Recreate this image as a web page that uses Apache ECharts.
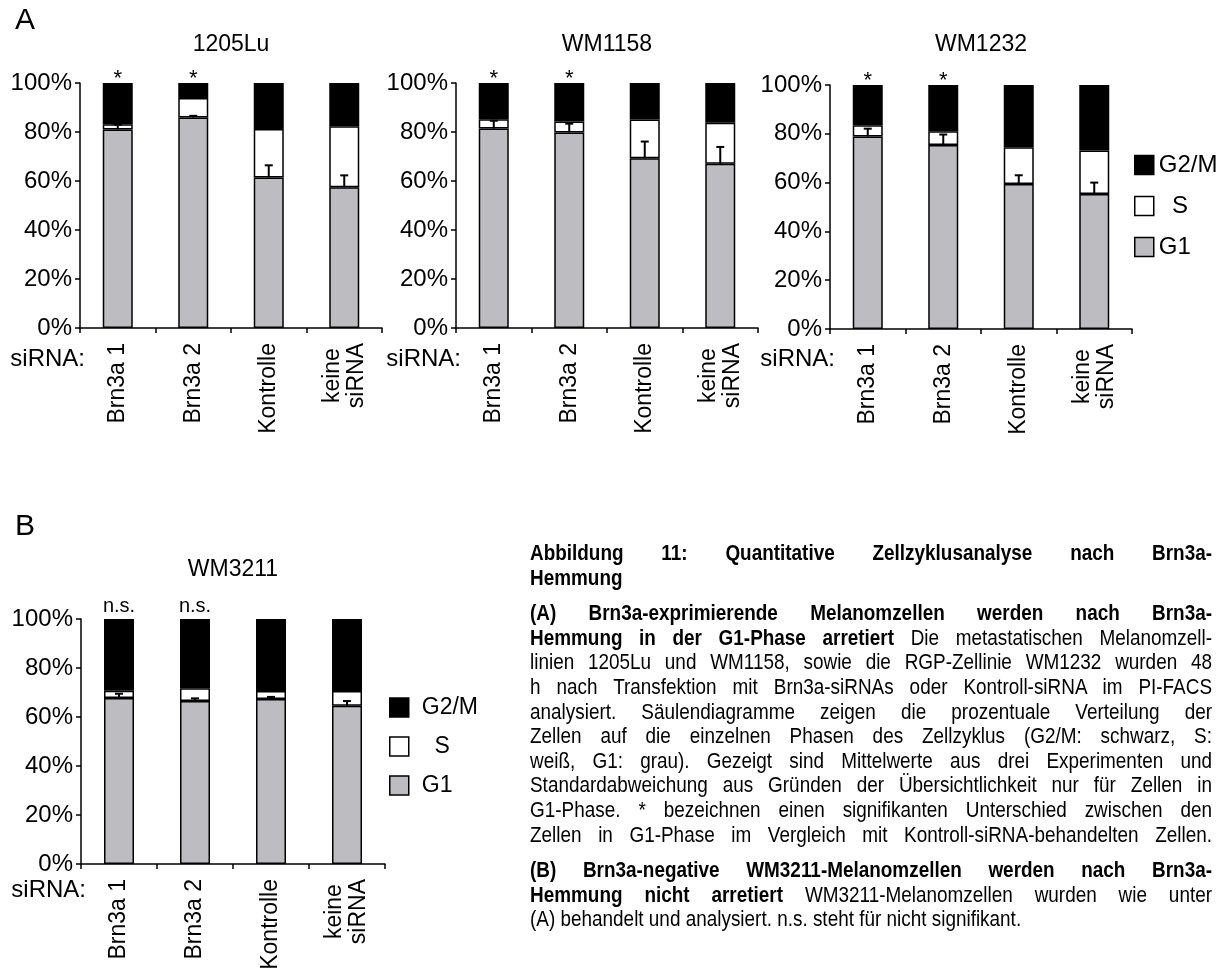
<!DOCTYPE html>
<html>
<head>
<meta charset="utf-8">
<script src="https://cdn.jsdelivr.net/npm/echarts@6/dist/echarts.min.js"></script>
<style>
  html, body { margin: 0; padding: 0; background: #fff; }
  #chart { position: absolute; left: 0; top: 0; width: 1227px; height: 970px; }
  #cap { position: absolute; left: 530px; top: 541px; width: 775px; color: #000;
         transform: scaleX(0.88); transform-origin: 0 0;
         font-family: 'Liberation Sans', Arial, sans-serif;
         font-size: 21.5px; line-height: 24.6px; }
  #cap .j { text-align: justify; text-align-last: justify; white-space: nowrap; }
  #cap .l { text-align: left; white-space: nowrap; }
  #cap .b { font-weight: bold; }
  #cap .gap { height: 11px; }
</style>
</head>
<body>
<div id="chart"></div>
<div id="cap">
  <div class="j b">Abbildung 11: Quantitative Zellzyklusanalyse nach Brn3a-</div>
  <div class="l b">Hemmung</div>
  <div class="gap"></div>
  <div class="j b">(A) Brn3a-exprimierende Melanomzellen werden nach Brn3a-</div>
  <div class="j"><span class="b">Hemmung in der G1-Phase arretiert</span> Die metastatischen Melanomzell-</div>
  <div class="j">linien 1205Lu und WM1158, sowie die RGP-Zellinie WM1232 wurden 48</div>
  <div class="j">h nach Transfektion mit Brn3a-siRNAs oder Kontroll-siRNA im PI-FACS</div>
  <div class="j">analysiert. Säulendiagramme zeigen die prozentuale Verteilung der</div>
  <div class="j">Zellen auf die einzelnen Phasen des Zellzyklus (G2/M: schwarz, S:</div>
  <div class="j">weiß, G1: grau). Gezeigt sind Mittelwerte aus drei Experimenten und</div>
  <div class="j">Standardabweichung aus Gründen der Übersichtlichkeit nur für Zellen in</div>
  <div class="j">G1-Phase. * bezeichnen einen signifikanten Unterschied zwischen den</div>
  <div class="j">Zellen in G1-Phase im Vergleich mit Kontroll-siRNA-behandelten Zellen.</div>
  <div class="gap"></div>
  <div class="j b">(B) Brn3a-negative WM3211-Melanomzellen werden nach Brn3a-</div>
  <div class="j"><span class="b">Hemmung nicht arretiert</span> WM3211-Melanomzellen wurden wie unter</div>
  <div class="l">(A) behandelt und analysiert. n.s. steht für nicht signifikant.</div>
</div>
<script>
// ---------------- DATA ----------------
const categories = ['Brn3a 1', 'Brn3a 2', 'Kontrolle', 'keine\nsiRNA'];
const panelTitles = ['1205Lu', 'WM1158', 'WM1232', 'WM3211'];
const seriesNames = ['G1', 'S', 'G2/M'];
const yTicks = [0, 20, 40, 60, 80, 100];

// 1205Lu
const g1_1205Lu  = [81.0, 85.9, 61.4, 57.5];
const s_1205Lu   = [2.2, 8.0, 19.8, 24.8];
const g2m_1205Lu = [16.8, 6.1, 18.8, 17.7];
const err_1205Lu = [2.0, 0.7, 5.0, 4.8];
const sig_1205Lu = ['*', '*', '', ''];

// WM1158
const g1_WM1158  = [81.4, 79.8, 69.3, 67.0];
const s_WM1158   = [3.8, 4.5, 15.8, 16.8];
const g2m_WM1158 = [14.8, 15.7, 14.9, 16.2];
const err_WM1158 = [3.2, 3.6, 6.8, 6.9];
const sig_WM1158 = ['*', '*', '', ''];

// WM1232
const g1_WM1232  = [78.9, 75.4, 59.4, 55.3];
const s_WM1232   = [4.6, 5.6, 15.1, 17.9];
const g2m_WM1232 = [16.5, 19.0, 25.5, 26.8];
const err_WM1232 = [3.2, 4.3, 3.6, 4.7];
const sig_WM1232 = ['*', '*', '', ''];

// WM3211
const g1_WM3211  = [67.8, 66.5, 67.3, 64.6];
const s_WM3211   = [2.9, 5.2, 3.3, 6.0];
const g2m_WM3211 = [29.3, 28.3, 29.4, 29.4];
const err_WM3211 = [1.7, 1.1, 0.9, 1.9];
const sig_WM3211 = ['n.s.', 'n.s.', '', ''];

// --------------- LAYOUT / STYLE ---------------
const FONT = "'Liberation Sans', Arial, sans-serif";
const GRAY = '#bdbdc1';
const panels = [
  { g1: g1_1205Lu, s: s_1205Lu, g2m: g2m_1205Lu, err: err_1205Lu, sig: sig_1205Lu, grid: { left: 80, top: 83, width: 302, height: 245 } },
  { g1: g1_WM1158, s: s_WM1158, g2m: g2m_WM1158, err: err_WM1158, sig: sig_WM1158, grid: { left: 456, top: 83, width: 302, height: 245 } },
  { g1: g1_WM1232, s: s_WM1232, g2m: g2m_WM1232, err: err_WM1232, sig: sig_WM1232, grid: { left: 830, top: 85, width: 302, height: 244 } },
  { g1: g1_WM3211, s: s_WM3211, g2m: g2m_WM3211, err: err_WM3211, sig: sig_WM3211, grid: { left: 81, top: 619, width: 304, height: 245 } }
];

const grids = [], xAxes = [], yAxes = [], series = [], graphics = [];

panels.forEach((p, i) => {
  grids.push(Object.assign({ containLabel: false, outerBoundsMode: 'none' }, p.grid));
  xAxes.push({
    type: 'category', gridIndex: i, data: categories,
    axisLine: { show: true, lineStyle: { color: '#000', width: 1.5 } },
    axisTick: { show: true, length: 5, lineStyle: { color: '#000', width: 1.5 } },
    axisLabel: {
      rotate: 90, margin: 15, color: '#000', fontSize: 23, fontFamily: FONT,
      formatter: v => v.indexOf('\n') >= 0 ? v.split('\n').map(s => '{c|' + s + '}').join('\n') : v,
      rich: { c: { align: 'center', fontSize: 23, fontFamily: FONT, color: '#000', lineHeight: 24 } }
    },
    splitLine: { show: false }
  });
  yAxes.push({
    type: 'value', gridIndex: i, min: yTicks[0], max: yTicks[yTicks.length - 1], interval: 20,
    axisLine: { show: true, lineStyle: { color: '#000', width: 1.5 } },
    axisTick: { show: true, length: 5, lineStyle: { color: '#000', width: 1.5 } },
    axisLabel: { margin: 8, color: '#000', fontSize: 24, fontFamily: FONT, formatter: '{value}%' },
    splitLine: { show: false }
  });
  const common = { type: 'bar', stack: 'p' + i, xAxisIndex: i, yAxisIndex: i, barWidth: 30 };
  series.push(Object.assign({}, common, {
    name: 'G1', data: p.g1,
    itemStyle: { color: GRAY, borderColor: '#000', borderWidth: 1.5 }
  }));
  series.push(Object.assign({}, common, {
    name: 'S', data: p.s,
    itemStyle: { color: '#fff', borderColor: '#000', borderWidth: 1.5 }
  }));
  const isNS = i === 3;
  series.push(Object.assign({}, common, {
    name: 'G2/M', data: p.g2m,
    itemStyle: { color: '#000', borderColor: '#000', borderWidth: 1.5 },
    label: {
      show: true, position: 'top', distance: isNS ? 3 : -7,
      formatter: q => p.sig[q.dataIndex],
      color: '#000', fontSize: isNS ? 20 : 22, fontFamily: FONT
    }
  }));
  series.push({
    type: 'custom', name: 'err', xAxisIndex: i, yAxisIndex: i, z: 5,
    data: p.g1.map((v, k) => [k, v, p.err[k]]),
    renderItem: (params, api) => {
      const base = api.coord([api.value(0), api.value(1)]);
      const top = api.coord([api.value(0), api.value(1) + api.value(2)]);
      const st = { stroke: '#000', lineWidth: 2 };
      return {
        type: 'group', children: [
          { type: 'line', shape: { x1: base[0], y1: base[1], x2: top[0], y2: top[1] }, style: st },
          { type: 'line', shape: { x1: top[0] - 4, y1: top[1], x2: top[0] + 4, y2: top[1] }, style: st }
        ]
      };
    }
  });
  // panel title
  graphics.push({
    type: 'text', x: p.grid.left + p.grid.width / 2, y: i === 3 ? 570 : 45,
    style: { text: panelTitles[i], font: '23px ' + FONT, fill: '#000', align: 'center', verticalAlign: 'middle' }
  });
  // "siRNA:" label
  graphics.push({
    type: 'text', x: p.grid.left + 38 - 33, y: i === 3 ? 890 : 359,
    style: { text: 'siRNA:', font: '24px ' + FONT, fill: '#000', align: 'right', verticalAlign: 'middle' }
  });
});

graphics.push({ type: 'text', x: 15, y: 21, style: { text: 'A', font: '30px ' + FONT, fill: '#000', align: 'left', verticalAlign: 'middle' } });
graphics.push({ type: 'text', x: 15, y: 527, style: { text: 'B', font: '30px ' + FONT, fill: '#000', align: 'left', verticalAlign: 'middle' } });

const legendCommon = {
  orient: 'vertical', icon: 'rect', itemWidth: 19, itemHeight: 19,
  data: ['G2/M', 'S', 'G1'],
  itemStyle: { borderColor: '#000', borderWidth: 1.5 },
  formatter: n => n === 'S' ? '  S' : n,
  selectedMode: false
};

const option = {
  backgroundColor: '#fff',
  animation: false,
  grid: grids, xAxis: xAxes, yAxis: yAxes, series: series,
  legend: [
    Object.assign({}, legendCommon, { left: 1129, top: 148, itemGap: 17,
      textStyle: { color: '#000', fontSize: 24, fontFamily: FONT } }),
    Object.assign({}, legendCommon, { left: 384, top: 691, itemGap: 16,
      textStyle: { color: '#000', fontSize: 23, fontFamily: FONT, padding: [0, 0, 0, 8] } })
  ],
  graphic: graphics
};

const chart = echarts.init(document.getElementById('chart'), null, { renderer: 'canvas' });
chart.setOption(option);
</script>
</body>
</html>
